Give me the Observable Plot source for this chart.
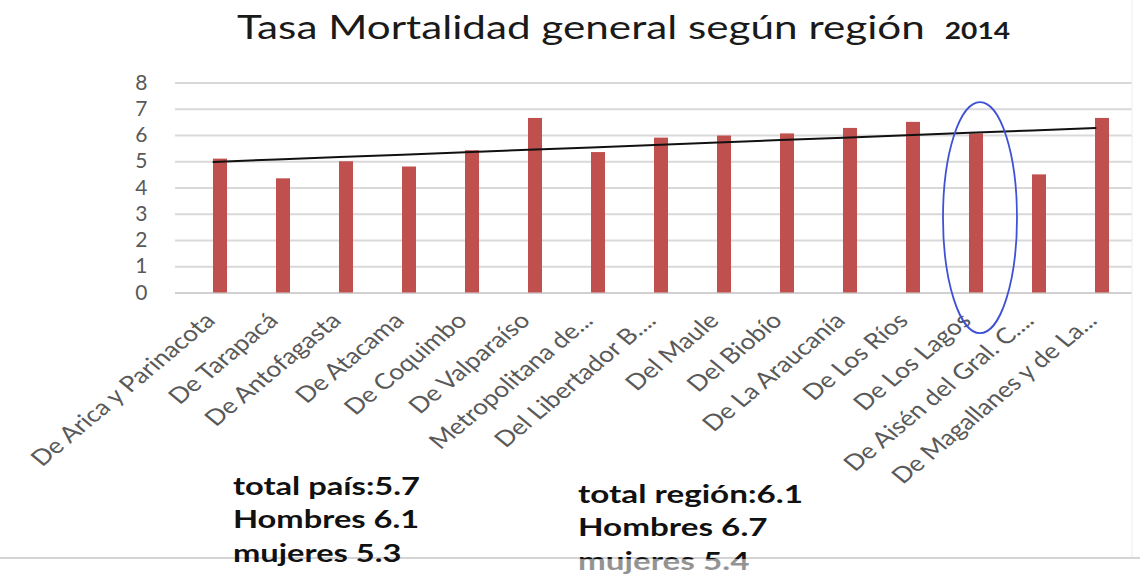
<!DOCTYPE html>
<html>
<head>
<meta charset="utf-8">
<script src="https://cdn.jsdelivr.net/npm/d3@7"></script>
<script src="https://cdn.jsdelivr.net/npm/@observablehq/plot@0.6"></script>
<style>
  html, body { margin: 0; padding: 0; background: #fff; }
  #chart { position: relative; width: 1140px; height: 575px; overflow: hidden; }
  #chart svg { display: block; }
</style>
</head>
<body>
<div id="chart"></div>
<script>
// ---- data ----
const regions = [
  "De Arica y Parinacota", "De Tarapacá", "De Antofagasta", "De Atacama",
  "De Coquimbo", "De Valparaíso", "Metropolitana de...", "Del Libertador B....",
  "Del Maule", "Del Biobío", "De La Araucanía", "De Los Ríos",
  "De Los Lagos", "De Aisén del Gral. C....", "De Magallanes y de La..."
];
const rates = [5.1, 4.35, 5.0, 4.8, 5.42, 6.65, 5.35, 5.9, 5.98, 6.06, 6.27, 6.5, 6.06, 4.5, 6.65];
const yTicks = [0, 1, 2, 3, 4, 5, 6, 7, 8];
const title = "Tasa Mortalidad general según región";
const titleYear = "2014";
const notesPais = ["total país:5.7", "Hombres 6.1", "mujeres 5.3"];
const notesRegion = ["total región:6.1", "Hombres 6.7", "mujeres 5.4"];
const highlighted = "De Los Lagos";

const data = regions.map((region, i) => ({region, rate: rates[i]}));

// linear trend line (least squares over category index)
const n = rates.length;
const mx = (n - 1) / 2;
const my = d3.mean(rates);
const slope = d3.sum(rates, (v, i) => (i - mx) * (v - my)) / d3.sum(rates, (v, i) => (i - mx) ** 2);
const trend = regions.map((region, i) => ({region, fit: my + slope * (i - mx)}));

const FONT = "Lato, 'Open Sans', sans-serif";

const plot = Plot.plot({
  width: 1140,
  height: 575,
  marginTop: 82.5,
  marginBottom: 282.5,
  marginLeft: 175,
  marginRight: 8,
  style: {fontFamily: FONT, color: "#595959", background: "transparent", overflow: "visible"},
  x: {domain: regions, paddingInner: 0.78, paddingOuter: 0, insetLeft: 31, insetRight: 17},
  y: {domain: [0, 8]},
  marks: [
    Plot.ruleY(yTicks.filter(d => d > 0), {stroke: "#d9d9d9", strokeWidth: 2}),
    Plot.ruleY([0], {stroke: "#d0d0d0", strokeWidth: 2}),
    Plot.barY(data, {x: "region", y: "rate", fill: "#c0504d"}),
    Plot.line(trend, {x: "region", y: "fit", stroke: "#111", strokeWidth: 2, dx: -7}),
    Plot.axisY({ticks: yTicks, tickSize: 0, tickPadding: 28, fontSize: 21, fill: "#595959", label: null}),
    Plot.axisX({tickSize: 0, tickPadding: 24, dx: -10, tickRotate: -45, fontSize: 22, fill: "#595959", label: null})
  ]
});

document.getElementById("chart").appendChild(plot);

const svg = d3.select(plot);
const xs = plot.scale("x");
const ys = plot.scale("y");

// horizontal stretch of the rotated category labels (the reference is widened)
const LABEL_K = 1.2;
svg.selectAll('g[aria-label="x-axis tick label"] text, g[aria-label="x-axis tick label"]').each(function () {
  const tr = this.getAttribute("transform");
  if (tr && /rotate\(/.test(tr)) {
    this.setAttribute("transform", tr.replace(/rotate\(/, `scale(${LABEL_K},1) rotate(`));
  }
});

// ellipse around the highlighted region
const cx = xs.apply(highlighted) + xs.bandwidth / 2 + 4;
const yTop = ys.apply(7.25), yBot = ys.apply(-1.55);
svg.append("ellipse")
  .attr("cx", cx).attr("cy", (yTop + yBot) / 2)
  .attr("rx", 37).attr("ry", (yBot - yTop) / 2)
  .attr("fill", "none").attr("stroke", "#3f52d6").attr("stroke-width", 1.8);

function stretchGroup(g, x0, k) {
  g.attr("transform", `translate(${x0},0) scale(${k},1) translate(${-x0},0)`);
}

// title
const tg = svg.append("g");
const t = tg.append("text").attr("x", 237).attr("y", 39)
  .attr("text-anchor", "start").attr("font-family", FONT).attr("fill", "#1a1a1a");
const tMain = t.append("tspan").attr("font-size", 33).text(title);
const tk = 688 / tMain.node().getComputedTextLength();
t.append("tspan").attr("font-size", 22).attr("font-weight", "bold").attr("dx", 20 / tk).text(titleYear);
stretchGroup(tg, 237, tk);

// faint frame lines
svg.append("line").attr("x1", 1132).attr("x2", 1132).attr("y1", 0).attr("y2", 558)
  .attr("stroke", "#ededed").attr("stroke-width", 1);
svg.append("line").attr("x1", 0).attr("x2", 1140).attr("y1", 558).attr("y2", 558)
  .attr("stroke", "#d4d4d4").attr("stroke-width", 2);

function notes(lines, x0, y0, target) {
  const g = svg.append("g");
  const els = lines.map((s, i) => g.append("text").attr("x", x0).attr("y", y0 + i * 33.5)
    .attr("text-anchor", "start").attr("font-family", FONT).attr("font-weight", "bold")
    .attr("font-size", 25).attr("fill", "#111").text(s));
  stretchGroup(g, x0, target / els[0].node().getComputedTextLength());
  return g;
}
notes(notesRegion, 578, 503, 225);
svg.append("rect").attr("x", 0).attr("y", 559).attr("width", 1140).attr("height", 16)
  .attr("fill", "#fff").attr("fill-opacity", 0.55);
notes(notesPais, 233, 495, 187);
</script>
</body>
</html>
